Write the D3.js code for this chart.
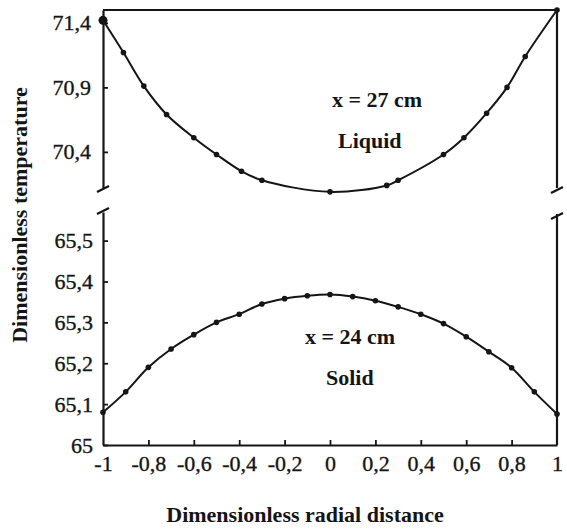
<!DOCTYPE html>
<html>
<head>
<meta charset="utf-8">
<script src="https://cdn.jsdelivr.net/npm/d3@7"></script>
</head>
<body style="margin:0;background:#fff">
<svg id="chart" width="567" height="531"></svg>
<script>
// radial positions and temperatures
var liquidX = [-1, -0.91, -0.82, -0.72, -0.6, -0.5, -0.39, -0.3, 0, 0.25, 0.3, 0.5, 0.59, 0.69, 0.78, 0.86, 1];
var liquidT = [71.42, 71.17, 70.91, 70.69, 70.51, 70.38, 70.25, 70.18, 70.09, 70.14, 70.18, 70.38, 70.51, 70.70, 70.90, 71.14, 71.5];

var solidX = [-1, -0.9, -0.8, -0.7, -0.6, -0.5, -0.4, -0.3, -0.2, -0.1, 0, 0.1, 0.2, 0.3, 0.4, 0.5, 0.6, 0.7, 0.8, 0.9, 1];
var solidT = [65.08, 65.13, 65.19, 65.235, 65.27, 65.30, 65.32, 65.345, 65.358, 65.365, 65.368, 65.363, 65.353, 65.338, 65.32, 65.297, 65.265, 65.228, 65.189, 65.13, 65.076];

var xTicks = [-1, -0.8, -0.6, -0.4, -0.2, 0, 0.2, 0.4, 0.6, 0.8, 1];
var liquidTicks = [70.4, 70.9, 71.4];
var solidTicks = [65, 65.1, 65.2, 65.3, 65.4, 65.5];

var SERIF = '"Liberation Serif", monospace';
var INK = '#151515';

var svg = d3.select('#chart');
var fmt = function (d) { return String(d).replace('.', ','); };

var x = d3.scaleLinear().domain([-1, 1]).range([103, 557]);
var yTop = d3.scaleLinear().domain([70.12, 71.5]).range([188, 10]);
var yBot = d3.scaleLinear().domain([65, 65.57]).range([445, 212]);

function styleAxis(g) {
  g.select('.domain').attr('stroke', INK).attr('stroke-width', 2.2);
  g.selectAll('.tick line').attr('stroke', INK).attr('stroke-width', 1.8);
  g.selectAll('.tick text')
    .style('font-family', SERIF)
    .style('font-size', '22px')
    .style('fill', INK)
    .style('stroke', INK)
    .style('stroke-width', '0.35px');
}

// left axes, ticks pointing inside
svg.append('g')
  .attr('transform', 'translate(' + x(-1) + ',0)')
  .call(d3.axisLeft(yTop).tickValues(liquidTicks).tickFormat(fmt).tickSizeInner(-5).tickSizeOuter(0).tickPadding(12))
  .call(styleAxis);

svg.append('g')
  .attr('transform', 'translate(' + x(-1) + ',0)')
  .call(d3.axisLeft(yBot).tickValues(solidTicks).tickFormat(fmt).tickSizeInner(-5).tickSizeOuter(0).tickPadding(10))
  .call(styleAxis);

// bottom axis
svg.append('g')
  .attr('transform', 'translate(0,' + yBot(65) + ')')
  .call(d3.axisBottom(x).tickValues(xTicks).tickFormat(fmt).tickSizeInner(-5).tickSizeOuter(0).tickPadding(10))
  .call(styleAxis)
  .call(function (g) {
    g.selectAll('.tick').filter(function (d) { return d === -1 || d === 1; }).select('line').remove();
  });

// frame: top line and right side
var frame = svg.append('g').attr('stroke', INK).attr('stroke-width', 2.2).attr('fill', 'none');
frame.append('line').attr('x1', x(-1)).attr('x2', x(1)).attr('y1', yTop(71.5)).attr('y2', yTop(71.5));
frame.append('line').attr('x1', x(1)).attr('x2', x(1)).attr('y1', yTop(71.5)).attr('y2', 188);
frame.append('line').attr('x1', x(1)).attr('x2', x(1)).attr('y1', 214).attr('y2', yBot(65));

// axis break marks
var breaks = [[x(-1), 189], [x(-1), 211], [x(1), 190], [x(1), 216]];
frame.selectAll('path.brk').data(breaks).enter().append('path')
  .attr('class', 'brk')
  .attr('d', function (d) { return 'M' + (d[0] - 6) + ',' + (d[1] + 3) + 'L' + (d[0] + 6) + ',' + (d[1] - 3); });

// curves with their points
var line = d3.line().curve(d3.curveCatmullRom.alpha(0.5));

var liquid = liquidX.map(function (v, i) { return [x(v), yTop(liquidT[i])]; });
var solid = solidX.map(function (v, i) { return [x(v), yBot(solidT[i])]; });

[liquid, solid].forEach(function (pts) {
  svg.append('path')
    .attr('d', line(pts))
    .attr('fill', 'none')
    .attr('stroke', INK)
    .attr('stroke-width', 2);
  svg.append('g').selectAll('circle').data(pts).enter().append('circle')
    .attr('cx', function (d) { return d[0]; })
    .attr('cy', function (d) { return d[1]; })
    .attr('r', function (d, i) { return i === 0 && pts === liquid ? 4.5 : 2.8; })
    .attr('fill', INK);
});

// labels
function label(txt, px, py, anchor) {
  return svg.append('text')
    .attr('x', px).attr('y', py)
    .attr('text-anchor', anchor)
    .style('font-family', SERIF)
    .style('font-size', '22px')
    .style('font-weight', 'bold')
    .style('fill', INK)
    .text(txt);
}

label('x = 27 cm', 332, 107, 'start');
label('Liquid', 338, 148, 'start');
label('x = 24 cm', 305, 344, 'start');
label('Solid', 326, 385, 'start');

label('Dimensionless radial distance', 305, 522, 'middle');

label('Dimensionless temperature', 0, 0, 'middle')
  .attr('transform', 'translate(27,215) rotate(-90)');
</script>
</body>
</html>
